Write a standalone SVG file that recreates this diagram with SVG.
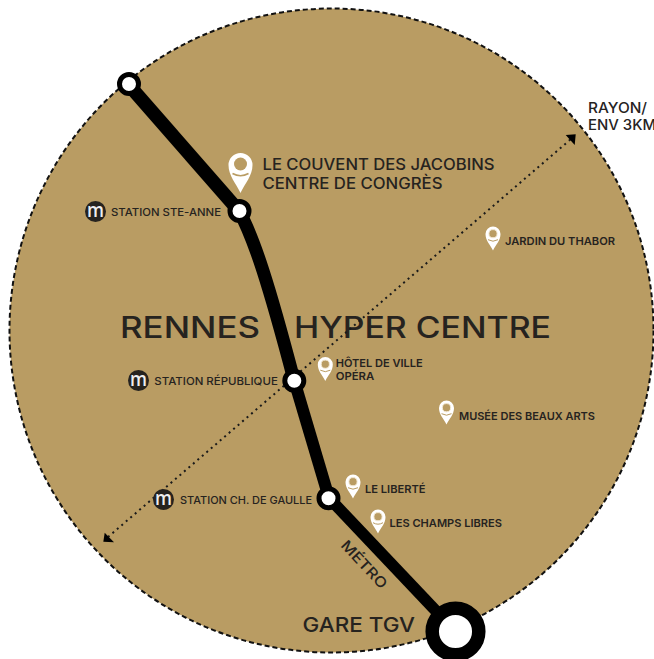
<svg xmlns="http://www.w3.org/2000/svg" width="654" height="659" viewBox="0 0 654 659">
<style>
text{font-family:Inter,"Liberation Sans",sans-serif;fill:#26231f}
.s{font-size:10.800px;font-weight:500}
.p{font-size:10.800px;font-weight:600}
.m{font-size:19px;font-weight:600;fill:#eeeeee;font-family:"Open Sans",sans-serif}
.t{font-size:14.500px;font-weight:500}
.c{font-size:15.500px;font-weight:500}
.h{font-size:29.500px;font-weight:500}
.st{fill:#fff;stroke:#000;stroke-width:5}
.d{fill:#26231f}
.l{fill:none;stroke:#000}
</style>
<defs>
<g id="pin">
<path d="M0 12C-3 6-7.500 2-7.500-4.500A7.500 7.500 0 0 1 7.500-4.500C7.500 2 3 6 0 12Z" fill="#fff"/>
<circle cy="-4.800" r="4.100" fill="#b99c63" stroke="#f4ead6" stroke-width="1"/>
<path d="M-5 1.200Q0 4.200 5 1.200" fill="none" stroke="#b99c63" stroke-width="1"/>
</g>
</defs>
<circle id="zone" cx="331.500" cy="330.500" r="322" fill="#b99c63" stroke="#111" stroke-width="2" stroke-dasharray="5 3"/>
<text class="h" x="120" y="338" textLength="140" lengthAdjust="spacingAndGlyphs">RENNES</text>
<text class="h" x="294" y="338" textLength="257" lengthAdjust="spacingAndGlyphs">HYPER CENTRE</text>
<g id="connectors">
<path d="M108 537L571 139" fill="none" stroke="#1a1a1a" stroke-width="2" stroke-dasharray="2 3.900"/>
<path d="M104.700 532.700L103.300 541.700L114 542.300Z" fill="#000"/>
<path d="M565.700 135L575.700 134.300L574.700 145Z" fill="#000"/>
<path class="l" d="M128 84L239 211" stroke-width="13.500"/>
<path class="l" d="M239 211C254 238 269 285 294 380" stroke-width="13"/>
<path class="l" d="M294 380L329 498" stroke-width="12"/>
<path class="l" d="M329 498L455 631" stroke-width="11.500"/>
</g>
<g id="stop-north"><circle class="st" cx="129" cy="84" r="9.500"/></g>
<g id="stop-ste-anne"><circle class="st" cx="239.500" cy="211" r="9.500"/></g>
<g id="stop-republique"><circle class="st" cx="294.300" cy="380.700" r="9.500"/></g>
<g id="stop-de-gaulle"><circle class="st" cx="328.500" cy="498.300" r="9.500"/></g>
<g id="stop-gare"><circle cx="455.500" cy="631.500" r="23.300" fill="#fff" stroke="#000" stroke-width="13.500"/><text x="302.500" y="631.500" style="font-size:20.500px;font-weight:500" textLength="112.500" lengthAdjust="spacingAndGlyphs">GARE TGV</text></g>
<g id="congres">
<path d="M240.500 193C236 183 228.500 176 228.500 165A12 12 0 0 1 252.500 165C252.500 176 245 183 240.500 193Z" fill="#fff"/>
<circle cx="240.500" cy="164" r="6.500" fill="#b99c63"/>
<path d="M232.500 173.500Q240.500 178 248.500 173.500" fill="none" stroke="#b99c63" stroke-width="1.500"/>
<text class="c" x="262.500" y="170" textLength="232" lengthAdjust="spacingAndGlyphs">LE COUVENT DES JACOBINS</text>
<text class="c" x="262.500" y="189" textLength="180" lengthAdjust="spacingAndGlyphs">CENTRE DE CONGRÈS</text>
</g>
<g id="ste-anne"><circle class="d" cx="95.500" cy="211.500" r="10.500"/><text class="m" x="87" y="217" textLength="17" lengthAdjust="spacingAndGlyphs">m</text><text class="s" x="111" y="216" textLength="110" lengthAdjust="spacingAndGlyphs">STATION STE-ANNE</text></g>
<g id="republique"><circle class="d" cx="138.500" cy="380.500" r="10.500"/><text class="m" x="130" y="386" textLength="17" lengthAdjust="spacingAndGlyphs">m</text><text class="s" x="154.300" y="385" textLength="123.500" lengthAdjust="spacingAndGlyphs">STATION RÉPUBLIQUE</text></g>
<g id="de-gaulle"><circle class="d" cx="163.500" cy="499.500" r="10.500"/><text class="m" x="155" y="505" textLength="17" lengthAdjust="spacingAndGlyphs">m</text><text class="s" x="180" y="504.300" textLength="132" lengthAdjust="spacingAndGlyphs">STATION CH. DE GAULLE</text></g>
<g id="thabor"><use href="#pin" x="493" y="238.500"/><text class="p" x="505" y="244.500" textLength="110" lengthAdjust="spacingAndGlyphs">JARDIN DU THABOR</text></g>
<g id="hotel"><use href="#pin" x="325.300" y="369"/><text class="p" x="335.700" y="366.500" textLength="87" lengthAdjust="spacingAndGlyphs">HÔTEL DE VILLE</text><text class="p" x="335.700" y="380" textLength="38.500" lengthAdjust="spacingAndGlyphs">OPÉRA</text></g>
<g id="musee"><use href="#pin" x="446.500" y="412.500"/><text class="p" x="459" y="419.500" textLength="136" lengthAdjust="spacingAndGlyphs">MUSÉE DES BEAUX ARTS</text></g>
<g id="liberte"><use href="#pin" x="353" y="486.500"/><text class="p" x="365" y="492.500" textLength="60.500" lengthAdjust="spacingAndGlyphs">LE LIBERTÉ</text></g>
<g id="champs"><use href="#pin" x="378" y="521.500"/><text class="p" x="389.500" y="527" textLength="112.500" lengthAdjust="spacingAndGlyphs">LES CHAMPS LIBRES</text></g>
<text id="metro" class="t" transform="translate(340 546) rotate(47)" textLength="60" lengthAdjust="spacingAndGlyphs">MÉTRO</text>
<text x="588" y="112.500" class="t" textLength="59" lengthAdjust="spacingAndGlyphs">RAYON/</text>
<text x="588" y="130" class="t" textLength="68" lengthAdjust="spacingAndGlyphs">ENV 3KM</text>
</svg>
